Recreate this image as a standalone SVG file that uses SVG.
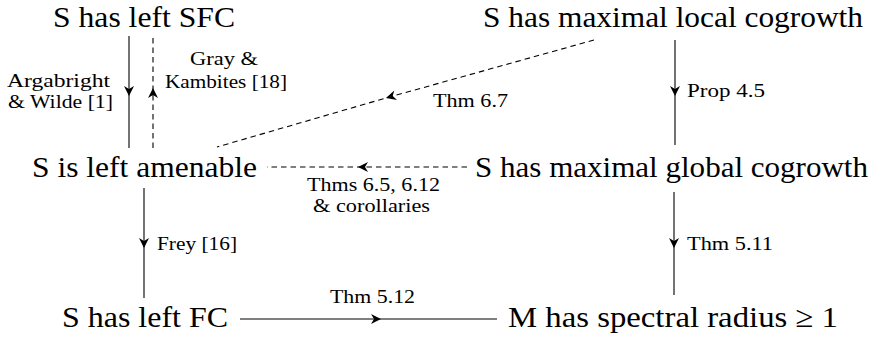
<svg xmlns="http://www.w3.org/2000/svg" width="875" height="338" viewBox="0 0 875 338">
<style>
.n{font-family:"Liberation Serif","Times New Roman",serif;font-size:30px;fill:#000;text-anchor:middle}
.l{font-family:"Liberation Serif","Times New Roman",serif;font-size:18px;fill:#000;text-anchor:middle}
.c{fill:none;stroke:#000;stroke-width:1.1;marker-mid:url(#ah)}
.d{stroke-dasharray:5.5,4}
</style>
<defs>
<marker id="ah" markerUnits="userSpaceOnUse" viewBox="-12 -7 14 14" markerWidth="14" markerHeight="14" refX="0" refY="0" orient="auto" overflow="visible">
<path d="M0,0 L-10,-5 L-7,0 L-10,5 Z" fill="#000" stroke="none"/>
</marker>
</defs>
<rect width="875" height="338" fill="#fff"/>
<g id="connectors">
<path class="c" d="M129,36 L129,96 L129,148"/>
<path class="c d" d="M153,148 L153,88 L153,36"/>
<path class="c d" d="M594,40 L386,98 L217,147"/>
<path class="c d" d="M467,167 L358,167 L267,167"/>
<path class="c" d="M675,40 L675,96 L675,145"/>
<path class="c" d="M144,188 L144,248 L144,298"/>
<path class="c" d="M674,192 L674,248 L674,295"/>
<path class="c" d="M240,319 L381,319 L497,319"/>
</g>
<g id="labels">
<text class="l" x="58.5" y="87" textLength="103" lengthAdjust="spacingAndGlyphs">Argabright</text>
<text class="l" x="60.5" y="108" textLength="105" lengthAdjust="spacingAndGlyphs">&amp; Wilde [1]</text>
<text class="l" x="224" y="65" textLength="68" lengthAdjust="spacingAndGlyphs">Gray &amp;</text>
<text class="l" x="226" y="88" textLength="122" lengthAdjust="spacingAndGlyphs">Kambites [18]</text>
<text class="l" x="470.5" y="107" textLength="75" lengthAdjust="spacingAndGlyphs">Thm 6.7</text>
<text class="l" x="726" y="97" textLength="78" lengthAdjust="spacingAndGlyphs">Prop 4.5</text>
<text class="l" x="373.5" y="191" textLength="133" lengthAdjust="spacingAndGlyphs">Thms 6.5, 6.12</text>
<text class="l" x="371.5" y="212" textLength="117" lengthAdjust="spacingAndGlyphs">&amp; corollaries</text>
<text class="l" x="197" y="250" textLength="80" lengthAdjust="spacingAndGlyphs">Frey [16]</text>
<text class="l" x="730" y="250" textLength="86" lengthAdjust="spacingAndGlyphs">Thm 5.11</text>
<text class="l" x="372.5" y="303" textLength="85" lengthAdjust="spacingAndGlyphs">Thm 5.12</text>
</g>
<g id="n1"><text class="n" x="144" y="27" textLength="182" lengthAdjust="spacingAndGlyphs">S has left SFC</text></g>
<g id="n2"><text class="n" x="673" y="27" textLength="380" lengthAdjust="spacingAndGlyphs">S has maximal local cogrowth</text></g>
<g id="n3"><text class="n" x="144.5" y="177" textLength="225" lengthAdjust="spacingAndGlyphs">S is left amenable</text></g>
<g id="n4"><text class="n" x="671.5" y="177" textLength="393" lengthAdjust="spacingAndGlyphs">S has maximal global cogrowth</text></g>
<g id="n5"><text class="n" x="145" y="327" textLength="166" lengthAdjust="spacingAndGlyphs">S has left FC</text></g>
<g id="n6"><text class="n" x="673" y="327" textLength="330" lengthAdjust="spacingAndGlyphs">M has spectral radius ≥ 1</text></g>
</svg>
